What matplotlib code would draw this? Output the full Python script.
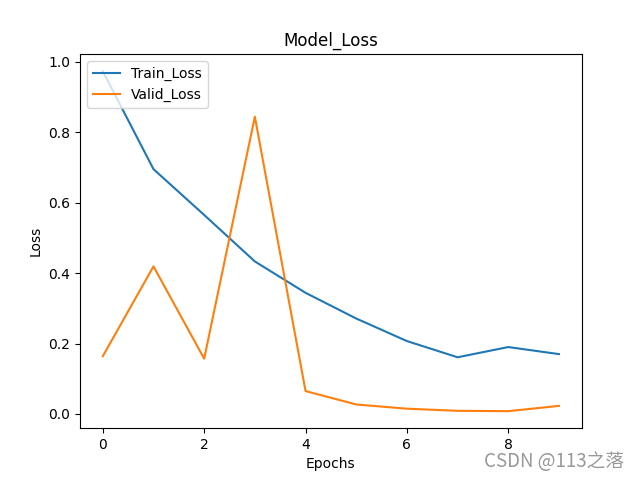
import matplotlib
matplotlib.use("Agg")
import matplotlib.pyplot as plt

epochs = list(range(10))
train_loss = [0.973, 0.695, 0.565, 0.433, 0.344, 0.271, 0.207, 0.161, 0.190, 0.170]
valid_loss = [0.164, 0.419, 0.157, 0.844, 0.065, 0.027, 0.015, 0.009, 0.008, 0.023]

fig = plt.figure(figsize=(6.4, 4.8), dpi=100)
fig.subplots_adjust(left=0.125, right=0.909, top=0.887, bottom=0.108)
plt.plot(epochs, train_loss, label="Train_Loss")
plt.plot(epochs, valid_loss, label="Valid_Loss")
plt.title("Model_Loss")
plt.xlabel("Epochs")
plt.ylabel("Loss")
plt.legend(loc="upper left")
fig.text(0.975, 0.016, "CSDN @113之落", ha="right", va="bottom", fontsize=13.5,
         color="#999999", family=["Noto Sans CJK SC", "DejaVu Sans"])
fig.savefig("out.png", dpi=100)
